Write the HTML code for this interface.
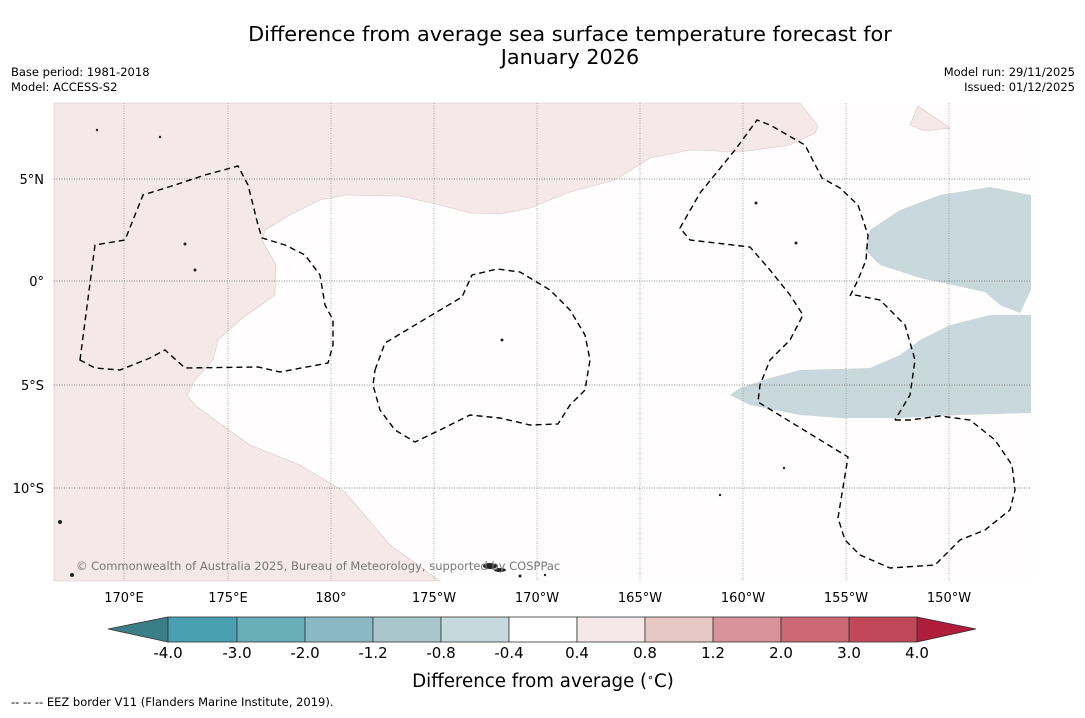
<!DOCTYPE html>
<html><head><meta charset="utf-8"><style>
body{margin:0;background:#fff;width:1085px;height:713px;overflow:hidden;font-family:"Liberation Sans","DejaVu Sans",sans-serif;}
</style></head><body>
<svg width="1085" height="713" viewBox="0 0 1085 713" xmlns="http://www.w3.org/2000/svg" font-family="DejaVu Sans, Liberation Sans, sans-serif">
<g>
<text x="570" y="41" font-size="20.8" text-anchor="middle" fill="#000">Difference from average sea surface temperature forecast for</text>
<text x="570" y="64" font-size="20.8" text-anchor="middle" fill="#000">January 2026</text>
</g>
<g font-size="11.5" fill="#000">
<text x="11" y="76">Base period: 1981-2018</text>
<text x="11" y="91">Model: ACCESS-S2</text>
<text x="1075" y="76" text-anchor="end">Model run: 29/11/2025</text>
<text x="1075" y="91" text-anchor="end">Issued: 01/12/2025</text>
</g>
<g>
<rect x="54" y="103" width="977" height="478" fill="#fffdfd"/>
<path fill="#f4e8e8" stroke="#d8c8c8" stroke-width="0.6" d="M54,103 L800,103 L818,126 L815,133 L790,145 L740,152 L690,150 L650,158 L615,180 L570,192 L530,208 L500,214 L470,213 L440,205 L400,196 L345,195 L320,200 L290,215 L265,230 L262,240 L276,265 L275,295 L240,320 L218,340 L213,360 L195,380 L187,395 L195,405 L215,420 L250,445 L300,465 L345,492 L390,545 L440,581 L54,581 Z"/>
<path fill="#f4e8e8" stroke="#d8c8c8" stroke-width="0.6" d="M918,106 L950,128 L925,131 L910,125 Z"/>
<path fill="#c8d8dc" d="M1031,195 L990,187 L940,195 L900,210 L870,230 L865,250 L880,265 L920,278 L985,292 L1000,305 L1020,313 L1031,290 Z"/>
<path fill="#c8d8dc" d="M1031,315 L990,315 L950,325 L920,340 L900,355 L870,368 L800,370 L770,378 L740,388 L730,395 L750,405 L800,415 L840,418 L900,418 L960,415 L1031,413 Z"/>
<g stroke="#999" stroke-width="0.8" stroke-dasharray="1,1.5">
<line x1="124" y1="103" x2="124" y2="581"/><line x1="228" y1="103" x2="228" y2="581"/><line x1="331" y1="103" x2="331" y2="581"/><line x1="434" y1="103" x2="434" y2="581"/><line x1="537" y1="103" x2="537" y2="581"/><line x1="640" y1="103" x2="640" y2="581"/><line x1="743" y1="103" x2="743" y2="581"/><line x1="846" y1="103" x2="846" y2="581"/><line x1="949" y1="103" x2="949" y2="581"/>
<line x1="54" y1="179" x2="1031" y2="179" stroke="#666"/><line x1="54" y1="281" x2="1031" y2="281" stroke="#666"/><line x1="54" y1="385" x2="1031" y2="385" stroke="#666"/><line x1="54" y1="488" x2="1031" y2="488" stroke="#666"/>
</g>
<g fill="none" stroke="#000" stroke-width="1.4" stroke-dasharray="6,4">
<path d="M80,360 L95,245 L125,240 L143,195 L175,185 L205,175 L238,166 L248,185 L258,225 L262,238 L285,245 L305,255 L320,275 L325,305 L333,320 L333,345 L328,363 L280,372 L258,367 L185,368 L165,350 L150,358 L120,370 L95,368 Z"/>
<path d="M375,370 L385,343 L420,322 L462,297 L472,275 L497,269 L520,272 L550,290 L570,310 L585,335 L590,360 L585,390 L570,405 L558,424 L530,425 L500,418 L470,415 L440,430 L415,442 L395,430 L380,410 L373,385 Z"/>
<path d="M850,296 L858,280 L866,260 L868,235 L858,205 L840,188 L822,178 L805,145 L770,125 L757,120 L735,150 L700,193 L680,228 L690,240 L750,247 L770,270 L790,295 L803,315 L790,340 L770,360 L760,385 L758,402 L848,457 L838,518 L845,540 L860,555 L890,568 L935,565 L960,540 L985,530 L1010,510 L1015,490 L1012,465 L995,440 L970,420 L940,416 L910,420 L893,420"/>
<path d="M855,295 L880,300 L905,325 L915,360 L910,395 L895,420"/>
</g>
<g fill="#222">
<ellipse cx="490" cy="566" rx="7" ry="3"/><ellipse cx="500" cy="570" rx="6" ry="2"/><circle cx="60" cy="522" r="2"/><circle cx="72" cy="575" r="2"/><circle cx="185" cy="244" r="1.5"/><circle cx="195" cy="270" r="1.5"/><circle cx="756" cy="203" r="1.5"/><circle cx="796" cy="243" r="1.5"/><circle cx="502" cy="340" r="1.5"/><circle cx="720" cy="495" r="1.2"/><circle cx="784" cy="468" r="1.2"/><circle cx="160" cy="137" r="1.2"/><circle cx="97" cy="130" r="1.2"/><circle cx="520" cy="576" r="1.5"/><circle cx="545" cy="575" r="1.2"/>
</g>
<text x="76" y="570" font-size="11.5" fill="#777">© Commonwealth of Australia 2025, Bureau of Meteorology, supported by COSPPac</text>
</g>
<g font-size="13" fill="#000" text-anchor="middle">
<text x="124" y="602">170°E</text><text x="228" y="602">175°E</text><text x="331" y="602">180°</text><text x="434" y="602">175°W</text><text x="537" y="602">170°W</text><text x="640" y="602">165°W</text><text x="743" y="602">160°W</text><text x="846" y="602">155°W</text><text x="949" y="602">150°W</text>
</g>
<g font-size="13" fill="#000" text-anchor="end">
<text x="44" y="184">5°N</text><text x="44" y="286">0°</text><text x="44" y="390">5°S</text><text x="44" y="493">10°S</text>
</g>
<g stroke="#333" stroke-width="0.8">
<polygon points="108,629 168,617 168,642" fill="#3a7f87"/>
<rect x="168" y="617" width="69" height="25" fill="#48a0b0"/>
<rect x="237" y="617" width="68" height="25" fill="#6aaeba"/>
<rect x="305" y="617" width="68" height="25" fill="#8ab9c3"/>
<rect x="373" y="617" width="68" height="25" fill="#a8c6cc"/>
<rect x="441" y="617" width="68" height="25" fill="#c6d9dd"/>
<rect x="509" y="617" width="68" height="25" fill="#ffffff"/>
<rect x="577" y="617" width="68" height="25" fill="#f4e8e8"/>
<rect x="645" y="617" width="68" height="25" fill="#e8c8c4"/>
<rect x="713" y="617" width="68" height="25" fill="#d8929a"/>
<rect x="781" y="617" width="68" height="25" fill="#cc6874"/>
<rect x="849" y="617" width="68" height="25" fill="#c04858"/>
<polygon points="917,617 976,629 917,642" fill="#b01c3c"/>
</g>
<g font-size="15" fill="#000" text-anchor="middle">
<text x="168" y="658">-4.0</text><text x="237" y="658">-3.0</text><text x="305" y="658">-2.0</text><text x="373" y="658">-1.2</text><text x="441" y="658">-0.8</text><text x="509" y="658">-0.4</text><text x="577" y="658">0.4</text><text x="645" y="658">0.8</text><text x="713" y="658">1.2</text><text x="781" y="658">2.0</text><text x="849" y="658">3.0</text><text x="917" y="658">4.0</text>
</g>
<text x="543" y="687" font-size="18.2" text-anchor="middle">Difference from average (<tspan font-size="11" dy="-6">∘</tspan><tspan dy="6">C)</tspan></text>
<text x="11" y="706" font-size="11.5">--  --  -- EEZ border V11 (Flanders Marine Institute, 2019).</text>
</svg>
</body></html>
